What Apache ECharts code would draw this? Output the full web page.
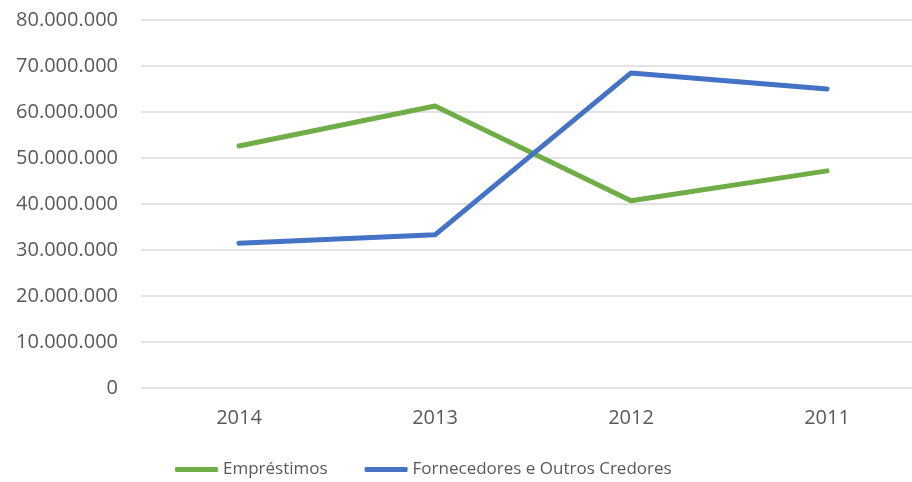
<!DOCTYPE html>
<html><head><meta charset="utf-8">
<script src="https://cdn.jsdelivr.net/npm/echarts@6/dist/echarts.min.js"></script>
<style>html,body{margin:0;padding:0;background:#fff}#c{width:912px;height:482px}</style>
</head><body><div id="c"></div>
<script>
const categories = ['2014', '2013', '2012', '2011'];
const emprestimos = [52600000, 61300000, 40700000, 47200000];
const fornecedores = [31450000, 33300000, 68500000, 65000000];
const seriesNames = ['Empréstimos', 'Fornecedores e Outros Credores'];
const yTicks = { min: 0, max: 80000000, interval: 10000000 };

const font = '"Open Sans", "Liberation Sans", sans-serif';
const chart = echarts.init(document.getElementById('c'));
function fmt(v) { return String(v).replace(/\B(?=(\d{3})+(?!\d))/g, '.'); }
chart.setOption({
  animation: false,
  grid: { left: 141, width: 784, top: 20, height: 368, outerBoundsMode: 'none', containLabel: false },
  legend: {
    top: 456, left: 170,
    itemWidth: 43, itemHeight: 5, itemGap: 37,
    icon: 'roundRect',
    textStyle: { color: '#595959', fontSize: 17, fontFamily: font },
    data: seriesNames
  },
  xAxis: {
    type: 'category', data: categories, boundaryGap: true,
    axisLine: { show: false }, axisTick: { show: false },
    axisLabel: { color: '#595959', fontSize: 20, fontFamily: font, margin: 20 }
  },
  yAxis: {
    type: 'value', min: yTicks.min, max: yTicks.max, interval: yTicks.interval,
    axisLine: { show: false }, axisTick: { show: false },
    splitLine: { lineStyle: { color: '#d9d9d9', width: 1.5 } },
    axisLabel: { color: '#595959', fontSize: 20, fontFamily: font, margin: 23, formatter: fmt }
  },
  series: [
    { name: seriesNames[0], type: 'line', data: emprestimos, symbol: 'none',
      lineStyle: { color: '#70ad47', width: 5, cap: 'round', join: 'round' }, itemStyle: { color: '#70ad47' } },
    { name: seriesNames[1], type: 'line', data: fornecedores, symbol: 'none',
      lineStyle: { color: '#4472c4', width: 5, cap: 'round', join: 'round' }, itemStyle: { color: '#4472c4' } }
  ]
});
</script></body></html>
